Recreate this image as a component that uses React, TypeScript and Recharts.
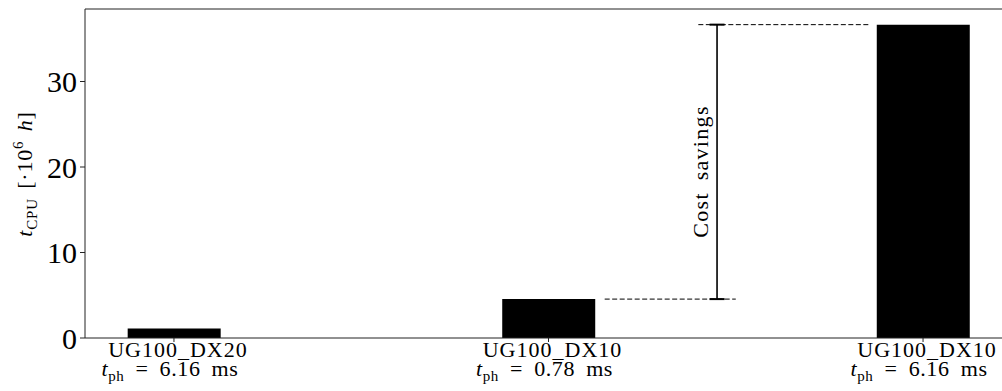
import { Bar, ComposedChart, ReferenceLine, XAxis, YAxis } from "recharts";

const positions = [0, 1, 2];
const categories = ["UG100_DX20", "UG100_DX10", "UG100_DX10"];
const physicalTimes = ["6.16", "0.78", "6.16"];
const cpuHours = [1.1, 4.55, 36.65];
const yTicks = [0, 10, 20, 30];

// x range follows matplotlib's 5% margin around bars of width 0.25
const xDomain: [number, number] = [-0.2375, 2.2375];
const yMax = 38.48;

// savings annotation, in data coordinates
const savingsX = 1.45;
const upperDash = [1.4, 1.86];
const lowerDash = [1.15, 1.5];
const capHalf = 0.02;

const FONT = "'Liberation Serif', 'DejaVu Serif', serif";
const INK = "#000";

const data = positions.map((pos, i) => ({
  pos,
  name: categories[i],
  tph: physicalTimes[i],
  cpu: cpuHours[i],
}));

function CategoryTick({ x, y, index }: any) {
  return (
    <g transform={`translate(${x},${y})`}>
      <text
        textAnchor="middle"
        x={4}
        y={13}
        fontFamily={FONT}
        fontSize={22}
        letterSpacing={1}
        fill={INK}
      >
        {categories[index]}
      </text>
      <text
        textAnchor="middle"
        x={-4}
        y={32}
        fontFamily={FONT}
        fontSize={22}
        letterSpacing={0.6}
        wordSpacing={5}
        fill={INK}
      >
        <tspan fontStyle="italic">t</tspan>
        <tspan fontSize={15} dy={5}>ph</tspan>
        <tspan dy={-5}>{` = ${physicalTimes[index]} ms`}</tspan>
      </text>
    </g>
  );
}

function YLabel() {
  const x = 32;
  const y = 174;
  return (
    <text
      x={x}
      y={y}
      transform={`rotate(-90, ${x}, ${y})`}
      textAnchor="middle"
      fontFamily={FONT}
      fontSize={22}
      letterSpacing={0.8}
      wordSpacing={3}
      fill={INK}
    >
      <tspan fontStyle="italic">t</tspan>
      <tspan fontSize={15} dy={5}>CPU</tspan>
      <tspan dy={-5}>{" [·10"}</tspan>
      <tspan fontSize={15} dy={-9}>6</tspan>
      <tspan dy={9}> </tspan>
      <tspan fontStyle="italic">h</tspan>
      <tspan>]</tspan>
    </text>
  );
}

function SavingsLabel({ viewBox }: any) {
  const x = viewBox.x - 9;
  const y = viewBox.y + viewBox.height * 0.535;
  return (
    <text
      x={x}
      y={y}
      transform={`rotate(-90, ${x}, ${y})`}
      textAnchor="middle"
      fontFamily={FONT}
      fontSize={22}
      letterSpacing={1.3}
      wordSpacing={5}
      fill={INK}
    >
      Cost savings
    </text>
  );
}

export default function App() {
  const low = cpuHours[1];
  const high = cpuHours[2];
  return (
    <div
      style={{
        position: "absolute",
        left: 0,
        top: 0,
        width: 1002,
        height: 391,
        overflow: "hidden",
        background: "#fff",
      }}
    >
      <ComposedChart
        width={1020}
        height={391}
        data={data}
        margin={{ top: 9, right: 8, bottom: 0, left: 0 }}
      >
        <XAxis
          type="number"
          dataKey="pos"
          domain={xDomain}
          ticks={positions}
          interval={0}
          allowDataOverflow
          height={53}
          tickSize={4}
          tickMargin={2}
          stroke="#222"
          tick={<CategoryTick />}
        />
        <YAxis
          type="number"
          domain={[0, yMax]}
          ticks={yTicks}
          allowDataOverflow
          width={85}
          tickSize={5}
          tickMargin={3}
          stroke="#222"
          tick={{ fill: INK, fontFamily: FONT, fontSize: 30 }}
          label={<YLabel />}
        />
        <ReferenceLine y={yMax} stroke="#222" />
        <Bar dataKey="cpu" fill="#000" barSize={93} isAnimationActive={false} />
        <ReferenceLine
          segment={[
            { x: upperDash[0], y: high },
            { x: upperDash[1], y: high },
          ]}
          stroke="#000"
          strokeDasharray="5 2.5"
        />
        <ReferenceLine
          segment={[
            { x: lowerDash[0], y: low },
            { x: lowerDash[1], y: low },
          ]}
          stroke="#000"
          strokeDasharray="5 2.5"
        />
        <ReferenceLine
          segment={[
            { x: savingsX, y: low },
            { x: savingsX, y: high },
          ]}
          stroke="#000"
          strokeWidth={1.6}
          label={<SavingsLabel />}
        />
        <ReferenceLine
          segment={[
            { x: savingsX - capHalf, y: high },
            { x: savingsX + capHalf, y: high },
          ]}
          stroke="#000"
          strokeWidth={2}
        />
        <ReferenceLine
          segment={[
            { x: savingsX - capHalf, y: low },
            { x: savingsX + capHalf, y: low },
          ]}
          stroke="#000"
          strokeWidth={2}
        />
      </ComposedChart>
    </div>
  );
}
